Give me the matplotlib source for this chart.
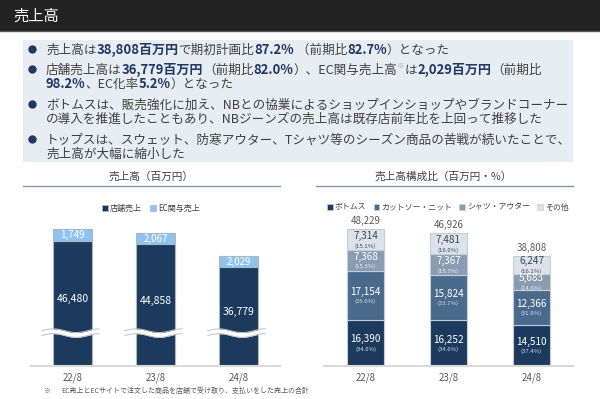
import matplotlib
matplotlib.use('Agg')
import matplotlib.pyplot as plt
from matplotlib.patches import Rectangle, Patch
import numpy as np

plt.rcParams['font.family'] = ['Noto Sans CJK JP', 'DejaVu Sans']

# ---- data ----
years = ['22/8', '23/8', '24/8']
store_sales = [46480, 44858, 36779]
ec_sales = [1749, 2067, 2029]

cat_names = ['ボトムス', 'カットソー・ニット', 'シャツ・アウター', 'その他']
bottoms = [16390, 16252, 14510]
cut_knit = [17154, 15824, 12366]
shirt_outer = [7368, 7367, 5683]
others = [7314, 7481, 6247]
bottoms_pct = [34.0, 34.6, 37.4]
cut_knit_pct = [35.6, 33.7, 31.9]
shirt_outer_pct = [15.3, 15.7, 14.6]
others_pct = [15.1, 16.0, 16.1]
totals = [48229, 46926, 38808]

# ---- style ----
NAVY = '#1F3864'
GRAY = '#404040'
TICK_GRAY = '#595959'
BAR_NAVY = '#1C3A5E'
EC_BLUE = '#8FC3F0'
CAT_COLORS = ['#1C3A5E', '#4A6A8C', '#8A9CB2', '#DCE2EA']
EDGE = '#C5CDD8'
YMAX = 52900          # axis top (bars share one scale)
EC_MIN = 4000         # EC segment drawn at least this tall so the label fits
BREAK_Y = 11600       # position of the wavy break mark

fig = plt.figure(figsize=(6, 3.99), dpi=100)
bg = fig.add_axes([0, 0, 1, 1])
bg.set_xlim(0, 600)
bg.set_ylim(399, 0)
bg.axis('off')
renderer = fig.canvas.get_renderer()

# title bar
bg.add_patch(Rectangle((0, 0), 600, 31, color='#222222', lw=0))
bg.plot([0, 600], [31, 31], color='#555555', lw=1)
bg.text(13, 16, '売上高', color='white', fontsize=11, va='center')

# summary box
bg.add_patch(Rectangle((23, 40), 550, 122, color='#E8EDF3', lw=0))

body = [
    (49, True, [('売上高は', 0), ('38,808百万円', 1), ('で期初計画比', 0), ('87.2%', 1),
                (' （前期比', 0), ('82.7%', 1), ('）となった', 0)]),
    (69, True, [('店舗売上高は', 0), ('36,779百万円', 1), ('（前期比', 0), ('82.0%', 1),
                ('）、EC関与売上高', 0), ('※', 2), ('は', 0), ('2,029百万円', 1), ('（前期比', 0)]),
    (83, False, [('98.2%', 1), ('、EC化率', 0), ('5.2%', 1), ('）となった', 0)]),
    (104, True, [('ボトムスは、販売強化に加え、NBとの協業によるショップインショップやブランドコーナー', 0)]),
    (118, False, [('の導入を推進したこともあり、NBジーンズの売上高は既存店前年比を上回って推移した', 0)]),
    (139, True, [('トップスは、スウェット、防寒アウター、Tシャツ等のシーズン商品の苦戦が続いたことで、', 0)]),
    (153, False, [('売上高が大幅に縮小した', 0)]),
]

for y, bullet, runs in body:
    if bullet:
        bg.plot(32, y, 'o', color=NAVY, markersize=5)
    x = 46
    for txt, kind in runs:
        if kind == 2:
            t = bg.text(x, y - 1, txt, fontsize=5.5, color='#A0A0A0', va='baseline')
        else:
            t = bg.text(x, y + 4.5, txt, fontsize=9.4 if kind else 9.05, va='baseline',
                        color=NAVY if kind else GRAY,
                        fontweight='bold' if kind else 'normal')
        x += t.get_window_extent(renderer).width

# chart titles
bg.text(151, 177, '売上高（百万円）', fontsize=7.7, color=GRAY, ha='center', va='center')
bg.plot([23, 280], [186, 186], color='#8497B0', lw=1)
bg.text(443, 177, '売上高構成比（百万円・%）', fontsize=7.7, color=GRAY, ha='center', va='center')
bg.plot([316, 573], [186, 186], color='#8497B0', lw=1)

# footnote
bg.text(43, 391, '※', fontsize=5, color=TICK_GRAY, va='center')
bg.text(61, 391, 'EC売上とECサイトで注文した商品を店舗で受け取り、支払いをした売上の合計',
        fontsize=5, color=TICK_GRAY, va='center')


def style_axes(ax):
    ax.set_xlim(-0.5, 2.5)
    ax.set_ylim(0, YMAX)
    for s in ['left', 'right', 'top']:
        ax.spines[s].set_visible(False)
    ax.spines['bottom'].set_color('#D9D9D9')
    ax.spines['bottom'].set_linewidth(1.5)
    ax.spines['bottom'].set_zorder(5)
    ax.set_yticks([])
    ax.set_xticks(range(len(years)))
    ax.set_xticklabels(years, fontsize=7, color=TICK_GRAY)
    ax.tick_params(axis='x', length=0, pad=5)
    ax.patch.set_alpha(0)


# ---- left chart: sales ----
xs = np.arange(len(years))
axL = fig.add_axes([31 / 600, 1 - 366 / 399, 249 / 600, 150 / 399])
style_axes(axL)
totals_l = [s + e for s, e in zip(store_sales, ec_sales)]
ec_h = [max(e, EC_MIN) for e in ec_sales]
store_h = [t - h for t, h in zip(totals_l, ec_h)]
bw = 0.47
axL.bar(xs, store_h, width=bw, color=BAR_NAVY, edgecolor='#A9B6C6', lw=0.8, zorder=2)
axL.bar(xs, ec_h, bottom=store_h, width=bw, color=EC_BLUE, edgecolor='#A9B6C6', lw=0.8, zorder=2)
for i in range(len(years)):
    axL.annotate(f'{store_sales[i]:,}', (xs[i], store_h[i] / 2), xytext=(0, 3),
                 textcoords='offset points', ha='center', va='center', color='white', fontsize=7.5)
    axL.annotate(f'{ec_sales[i]:,}', (xs[i], store_h[i] + ec_h[i] / 2), ha='center',
                 va='center', color='white', fontsize=7)
    # wavy break
    wx = np.linspace(xs[i] - 0.37, xs[i] + 0.32, 80)
    wy = BREAK_Y + 650 * np.sin((wx - xs[i] + 0.37) / 0.69 * 2.5 * np.pi)
    axL.fill_between(wx, wy - 850, wy + 850, color='white', zorder=3, lw=0)
    axL.plot(wx, wy - 850, color='#BFBFBF', lw=0.7, zorder=3)
    axL.plot(wx, wy + 850, color='#BFBFBF', lw=0.7, zorder=3)

fig.legend(handles=[Patch(facecolor=BAR_NAVY, edgecolor='#A9B6C6', lw=0.5),
                    Patch(facecolor=EC_BLUE, edgecolor='#A9B6C6', lw=0.5)],
           labels=['店舗売上', 'EC関与売上'], loc='center', ncol=2,
           bbox_to_anchor=(151 / 600, 1 - 208 / 399), frameon=False, fontsize=5.8,
           handlelength=0.7, handleheight=0.7, handletextpad=0.3, columnspacing=1.0,
           labelcolor=GRAY)

# ---- right chart: composition ----
axR = fig.add_axes([324 / 600, 1 - 366 / 399, 249 / 600, 150 / 399])
style_axes(axR)
series = [bottoms, cut_knit, shirt_outer, others]
pcts = [bottoms_pct, cut_knit_pct, shirt_outer_pct, others_pct]
val_colors = ['white', 'white', 'white', '#3B4A5E']
pct_colors = ['#D6DEE8', '#D6DEE8', '#EEF2F6', '#3B4A5E']
bw = 0.45
base = np.zeros(len(years))
for k, vals in enumerate(series):
    axR.bar(xs, vals, bottom=base, width=bw, color=CAT_COLORS[k], edgecolor=EDGE,
            lw=0.8, zorder=2)
    for i in range(len(years)):
        yc = base[i] + vals[i] / 2
        axR.annotate(f'{vals[i]:,}', (xs[i], yc), xytext=(0, 2.5), textcoords='offset points',
                     ha='center', va='center', color=val_colors[k], fontsize=7.2)
        axR.annotate(f'({pcts[k][i]:.1f}%)', (xs[i], yc), xytext=(0, -4.5),
                     textcoords='offset points', ha='center', va='center',
                     color=pct_colors[k], fontsize=4.3)
    base += np.array(vals)
for i in range(len(years)):
    axR.annotate(f'{totals[i]:,}', (xs[i], base[i]), xytext=(0, 2), textcoords='offset points',
                 ha='center', va='bottom', color=TICK_GRAY, fontsize=7)

fig.legend(handles=[Patch(facecolor=c, edgecolor=EDGE, lw=0.5) for c in CAT_COLORS],
           labels=cat_names, loc='center', ncol=4,
           bbox_to_anchor=(448 / 600, 1 - 207 / 399), frameon=False, fontsize=5.7,
           handlelength=0.7, handleheight=0.7, handletextpad=0.3, columnspacing=0.9,
           labelcolor=GRAY)

fig.savefig('out.png', dpi=100)
